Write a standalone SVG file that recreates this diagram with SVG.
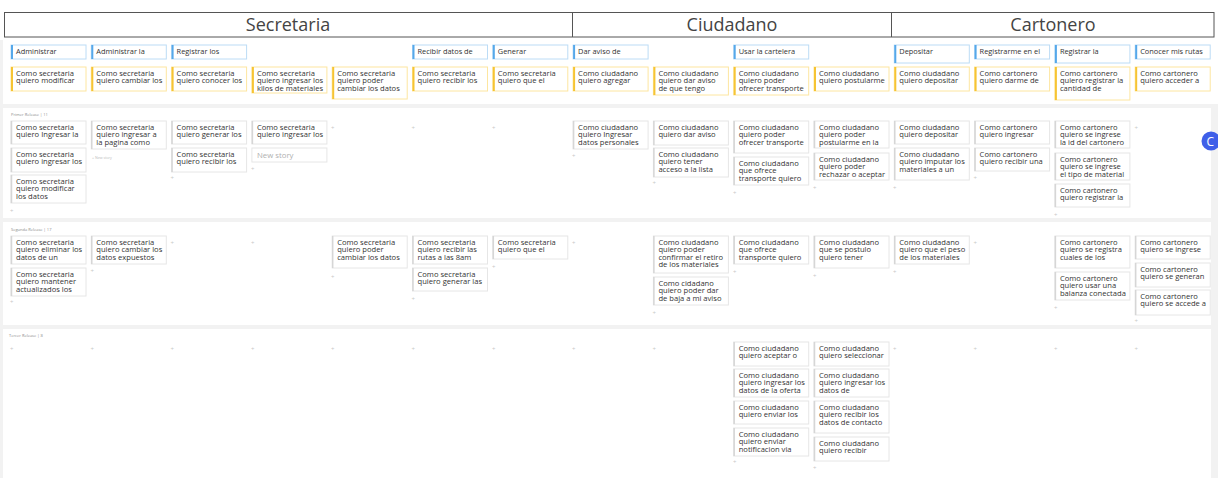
<svg xmlns="http://www.w3.org/2000/svg" width="1218" height="478" viewBox="0 0 1218 478">
<style>
.t{font-family:"Open Sans","Noto Sans",sans-serif;font-size:7.6px;fill:#333}
.a{font-family:"Open Sans","Noto Sans",sans-serif;font-size:7.4px;fill:#333}
.h{font-family:"Open Sans","Noto Sans",sans-serif;font-size:18px;fill:#444;text-anchor:middle}
.rl{font-family:"Open Sans","Noto Sans",sans-serif;font-size:4px;fill:#8a8a8a}
.ns{font-family:"Open Sans","Noto Sans",sans-serif;font-size:7.8px;fill:#b0b0b0}
.p{font-family:"Open Sans","Noto Sans",sans-serif;font-size:6px;fill:#c8c8c8}
.pn{font-family:"Open Sans","Noto Sans",sans-serif;font-size:3.6px;fill:#bbb}
.story{fill:#fff;stroke:#e6e6e6;stroke-width:1}
.sbar{stroke:#d6d6d6;stroke-width:1.5}
.bb{fill:#fff;stroke:#fde6a0;stroke-width:1}
.bbar{stroke:#f6c433;stroke-width:2}
.act{fill:#fff;stroke:#bcdcf6;stroke-width:1}
.abar{stroke:#55a8ea;stroke-width:2}
.band{fill:#f2f2f2}
</style>
<rect x="0" y="0" width="1218" height="478" fill="#fff"/>
<rect class="band" x="0" y="104" width="1218" height="4"/>
<rect class="band" x="0" y="218" width="1218" height="4"/>
<rect class="band" x="0" y="325" width="1218" height="4"/>
<rect class="band" x="0" y="40" width="3" height="438"/>
<rect class="band" x="1211" y="104" width="7" height="374"/>

<g id="header">
<rect x="4.5" y="12.5" width="1209.5" height="24.5" fill="#fff" stroke="#555" stroke-width="1"/>
<line x1="572.5" y1="12.5" x2="572.5" y2="37" stroke="#555" stroke-width="1"/>
<line x1="891.5" y1="12.5" x2="891.5" y2="37" stroke="#555" stroke-width="1"/>
<text class="h" x="288" y="31">Secretaria</text>
<text class="h" x="732" y="31">Ciudadano</text>
<text class="h" x="1053" y="31">Cartonero</text>
</g>

<g id="connectors"></g>

<!-- Activities -->
<g id="act0"><rect class="act" x="11" y="45" width="75" height="14"/><line class="abar" x1="12" y1="45" x2="12" y2="59"/><text class="a" x="16" y="54">Administrar</text></g>
<g id="act1"><rect class="act" x="91.3" y="45" width="75" height="14"/><line class="abar" x1="92.3" y1="45" x2="92.3" y2="59"/><text class="a" x="96.3" y="54">Administrar la</text></g>
<g id="act2"><rect class="act" x="171.6" y="45" width="75" height="14"/><line class="abar" x1="172.6" y1="45" x2="172.6" y2="59"/><text class="a" x="176.6" y="54">Registrar los</text></g>
<g id="act5"><rect class="act" x="412.5" y="45" width="75" height="14"/><line class="abar" x1="413.5" y1="45" x2="413.5" y2="59"/><text class="a" x="417.5" y="54">Recibir datos de</text></g>
<g id="act6"><rect class="act" x="492.8" y="45" width="75" height="14"/><line class="abar" x1="493.8" y1="45" x2="493.8" y2="59"/><text class="a" x="497.8" y="54">Generar</text></g>
<g id="act7"><rect class="act" x="573.1" y="45" width="75" height="14"/><line class="abar" x1="574.1" y1="45" x2="574.1" y2="59"/><text class="a" x="578.1" y="54">Dar aviso de</text></g>
<g id="act9"><rect class="act" x="733.7" y="45" width="75" height="14"/><line class="abar" x1="734.7" y1="45" x2="734.7" y2="59"/><text class="a" x="738.7" y="54">Usar la cartelera</text></g>
<g id="act11"><rect class="act" x="894.3" y="45" width="75" height="18"/><line class="abar" x1="895.3" y1="45" x2="895.3" y2="63"/><text class="a" x="899.3" y="54">Depositar</text></g>
<g id="act12"><rect class="act" x="974.6" y="45" width="75" height="14"/><line class="abar" x1="975.6" y1="45" x2="975.6" y2="59"/><text class="a" x="979.6" y="54">Registrarme en el</text></g>
<g id="act13"><rect class="act" x="1054.9" y="45" width="75" height="18"/><line class="abar" x1="1055.9" y1="45" x2="1055.9" y2="63"/><text class="a" x="1059.9" y="54">Registrar la</text></g>
<g id="act14"><rect class="act" x="1135.2" y="45" width="75" height="14"/><line class="abar" x1="1136.2" y1="45" x2="1136.2" y2="59"/><text class="a" x="1140.2" y="54">Conocer mis rutas</text></g>

<!-- Backbone -->
<g id="bb0"><rect class="bb" x="11" y="67" width="75" height="24"/><line class="bbar" x1="12" y1="67" x2="12" y2="91"/><text class="t"><tspan x="16" y="76">Como secretaria</tspan><tspan x="16" y="83.3">quiero modificar</tspan></text></g>
<g id="bb1"><rect class="bb" x="91.3" y="67" width="75" height="24"/><line class="bbar" x1="92.3" y1="67" x2="92.3" y2="91"/><text class="t"><tspan x="96.3" y="76">Como secretaria</tspan><tspan x="96.3" y="83.3">quiero cambiar los</tspan></text></g>
<g id="bb2"><rect class="bb" x="171.6" y="67" width="75" height="24"/><line class="bbar" x1="172.6" y1="67" x2="172.6" y2="91"/><text class="t"><tspan x="176.6" y="76">Como secretaria</tspan><tspan x="176.6" y="83.3">quiero conocer los</tspan></text></g>
<g id="bb3"><rect class="bb" x="251.9" y="67" width="75" height="26"/><line class="bbar" x1="252.9" y1="67" x2="252.9" y2="93"/><text class="t"><tspan x="256.9" y="76">Como secretaria</tspan><tspan x="256.9" y="83.3">quiero ingresar los</tspan><tspan x="256.9" y="90.6">kilos de materiales</tspan></text></g>
<g id="bb4"><rect class="bb" x="332.2" y="67" width="75" height="32"/><line class="bbar" x1="333.2" y1="67" x2="333.2" y2="99"/><text class="t"><tspan x="337.2" y="76">Como secretaria</tspan><tspan x="337.2" y="83.3">quiero poder</tspan><tspan x="337.2" y="90.6">cambiar los datos</tspan></text></g>
<g id="bb5"><rect class="bb" x="412.5" y="67" width="75" height="24"/><line class="bbar" x1="413.5" y1="67" x2="413.5" y2="91"/><text class="t"><tspan x="417.5" y="76">Como secretaria</tspan><tspan x="417.5" y="83.3">quiero recibir los</tspan></text></g>
<g id="bb6"><rect class="bb" x="492.8" y="67" width="75" height="24"/><line class="bbar" x1="493.8" y1="67" x2="493.8" y2="91"/><text class="t"><tspan x="497.8" y="76">Como secretaria</tspan><tspan x="497.8" y="83.3">quiero que el</tspan></text></g>
<g id="bb7"><rect class="bb" x="573.1" y="67" width="75" height="24"/><line class="bbar" x1="574.1" y1="67" x2="574.1" y2="91"/><text class="t"><tspan x="578.1" y="76">Como ciudadano</tspan><tspan x="578.1" y="83.3">quiero agregar</tspan></text></g>
<g id="bb8"><rect class="bb" x="653.4" y="67" width="75" height="28"/><line class="bbar" x1="654.4" y1="67" x2="654.4" y2="95"/><text class="t"><tspan x="658.4" y="76">Como ciudadano</tspan><tspan x="658.4" y="83.3">quiero dar aviso</tspan><tspan x="658.4" y="90.6">de que tengo</tspan></text></g>
<g id="bb9"><rect class="bb" x="733.7" y="67" width="75" height="28"/><line class="bbar" x1="734.7" y1="67" x2="734.7" y2="95"/><text class="t"><tspan x="738.7" y="76">Como ciudadano</tspan><tspan x="738.7" y="83.3">quiero poder</tspan><tspan x="738.7" y="90.6">ofrecer transporte</tspan></text></g>
<g id="bb10"><rect class="bb" x="814" y="67" width="75" height="24"/><line class="bbar" x1="815" y1="67" x2="815" y2="91"/><text class="t"><tspan x="819" y="76">Como ciudadano</tspan><tspan x="819" y="83.3">quiero postularme</tspan></text></g>
<g id="bb11"><rect class="bb" x="894.3" y="67" width="75" height="24"/><line class="bbar" x1="895.3" y1="67" x2="895.3" y2="91"/><text class="t"><tspan x="899.3" y="76">Como ciudadano</tspan><tspan x="899.3" y="83.3">quiero depositar</tspan></text></g>
<g id="bb12"><rect class="bb" x="974.6" y="67" width="75" height="24"/><line class="bbar" x1="975.6" y1="67" x2="975.6" y2="91"/><text class="t"><tspan x="979.6" y="76">Como cartonero</tspan><tspan x="979.6" y="83.3">quiero darme de</tspan></text></g>
<g id="bb13"><rect class="bb" x="1054.9" y="67" width="75" height="33"/><line class="bbar" x1="1055.9" y1="67" x2="1055.9" y2="100"/><text class="t"><tspan x="1059.9" y="76">Como cartonero</tspan><tspan x="1059.9" y="83.3">quiero registrar la</tspan><tspan x="1059.9" y="90.6">cantidad de</tspan></text></g>
<g id="bb14"><rect class="bb" x="1135.2" y="67" width="75" height="24"/><line class="bbar" x1="1136.2" y1="67" x2="1136.2" y2="91"/><text class="t"><tspan x="1140.2" y="76">Como cartonero</tspan><tspan x="1140.2" y="83.3">quiero acceder a</tspan></text></g>

<!-- Release labels -->
<text class="rl" x="11" y="115.5">Primer Release  |  11</text>
<text class="rl" x="11" y="230.5">Segunda Release  |  17</text>
<text class="rl" x="9" y="336.5">Tercer Release  |  8</text>

<!-- Release 1 -->
<g id="r1c0a"><rect class="story" x="11" y="121" width="75" height="23"/><line class="sbar" x1="11.5" y1="121" x2="11.5" y2="144"/><text class="t"><tspan x="16" y="130">Como secretaria</tspan><tspan x="16" y="137.3">quiero Ingresar la</tspan></text></g>
<g id="r1c0b"><rect class="story" x="11" y="148" width="75" height="24"/><line class="sbar" x1="11.5" y1="148" x2="11.5" y2="172"/><text class="t"><tspan x="16" y="157">Como secretaria</tspan><tspan x="16" y="164.3">quiero ingresar los</tspan></text></g>
<g id="r1c0c"><rect class="story" x="11" y="175" width="75" height="28"/><line class="sbar" x1="11.5" y1="175" x2="11.5" y2="203"/><text class="t"><tspan x="16" y="184">Como secretaria</tspan><tspan x="16" y="191.3">quiero modificar</tspan><tspan x="16" y="198.6">los datos</tspan></text></g>
<g id="r1c1a"><rect class="story" x="91.3" y="121" width="75" height="28"/><line class="sbar" x1="91.8" y1="121" x2="91.8" y2="149"/><text class="t"><tspan x="96.3" y="130">Como secretaria</tspan><tspan x="96.3" y="137.3">quiero ingresar a</tspan><tspan x="96.3" y="144.6">la pagina como</tspan></text></g>
<g id="r1c2a"><rect class="story" x="171.6" y="121" width="75" height="23"/><line class="sbar" x1="172.1" y1="121" x2="172.1" y2="144"/><text class="t"><tspan x="176.6" y="130">Como secretaria</tspan><tspan x="176.6" y="137.3">quiero generar los</tspan></text></g>
<g id="r1c2b"><rect class="story" x="171.6" y="148" width="75" height="24"/><line class="sbar" x1="172.1" y1="148" x2="172.1" y2="172"/><text class="t"><tspan x="176.6" y="157">Como secretaria</tspan><tspan x="176.6" y="164.3">quiero recibir los</tspan></text></g>
<g id="r1c3a"><rect class="story" x="251.9" y="121" width="75" height="23"/><line class="sbar" x1="252.4" y1="121" x2="252.4" y2="144"/><text class="t"><tspan x="256.9" y="130">Como secretaria</tspan><tspan x="256.9" y="137.3">quiero ingresar los</tspan></text></g>
<g id="r1c3new"><rect class="story" x="251.9" y="148" width="75" height="14"/><text class="ns" x="256.9" y="157.5">New story</text></g>
<g id="r1c7a"><rect class="story" x="573.1" y="121" width="75" height="28"/><line class="sbar" x1="573.6" y1="121" x2="573.6" y2="149"/><text class="t"><tspan x="578.1" y="130">Como ciudadano</tspan><tspan x="578.1" y="137.3">quiero Ingresar</tspan><tspan x="578.1" y="144.6">datos personales</tspan></text></g>
<g id="r1c8a"><rect class="story" x="653.4" y="121" width="75" height="24"/><line class="sbar" x1="653.9" y1="121" x2="653.9" y2="145"/><text class="t"><tspan x="658.4" y="130">Como ciudadano</tspan><tspan x="658.4" y="137.3">quiero dar aviso</tspan></text></g>
<g id="r1c8b"><rect class="story" x="653.4" y="148" width="75" height="29"/><line class="sbar" x1="653.9" y1="148" x2="653.9" y2="177"/><text class="t"><tspan x="658.4" y="157">Como ciudadano</tspan><tspan x="658.4" y="164.3">quiero tener</tspan><tspan x="658.4" y="171.6">acceso a la lista</tspan></text></g>
<g id="r1c9a"><rect class="story" x="733.7" y="121" width="75" height="32"/><line class="sbar" x1="734.2" y1="121" x2="734.2" y2="153"/><text class="t"><tspan x="738.7" y="130">Como ciudadano</tspan><tspan x="738.7" y="137.3">quiero poder</tspan><tspan x="738.7" y="144.6">ofrecer transporte</tspan></text></g>
<g id="r1c9b"><rect class="story" x="733.7" y="157" width="75" height="28"/><line class="sbar" x1="734.2" y1="157" x2="734.2" y2="185"/><text class="t"><tspan x="738.7" y="166">Como ciudadano</tspan><tspan x="738.7" y="173.3">que ofrece</tspan><tspan x="738.7" y="180.6">transporte quiero</tspan></text></g>
<g id="r1c10a"><rect class="story" x="814" y="121" width="75" height="27"/><line class="sbar" x1="814.5" y1="121" x2="814.5" y2="148"/><text class="t"><tspan x="819" y="130">Como ciudadano</tspan><tspan x="819" y="137.3">quiero poder</tspan><tspan x="819" y="144.6">postularme en la</tspan></text></g>
<g id="r1c10b"><rect class="story" x="814" y="153" width="75" height="27"/><line class="sbar" x1="814.5" y1="153" x2="814.5" y2="180"/><text class="t"><tspan x="819" y="162">Como ciudadano</tspan><tspan x="819" y="169.3">quiero poder</tspan><tspan x="819" y="176.6">rechazar o aceptar</tspan></text></g>
<g id="r1c11a"><rect class="story" x="894.3" y="121" width="75" height="23"/><line class="sbar" x1="894.8" y1="121" x2="894.8" y2="144"/><text class="t"><tspan x="899.3" y="130">Como ciudadano</tspan><tspan x="899.3" y="137.3">quiero depositar</tspan></text></g>
<g id="r1c11b"><rect class="story" x="894.3" y="148" width="75" height="32"/><line class="sbar" x1="894.8" y1="148" x2="894.8" y2="180"/><text class="t"><tspan x="899.3" y="157">Como ciudadano</tspan><tspan x="899.3" y="164.3">quiero imputar los</tspan><tspan x="899.3" y="171.6">materiales a un</tspan></text></g>
<g id="r1c12a"><rect class="story" x="974.6" y="121" width="75" height="23"/><line class="sbar" x1="975.1" y1="121" x2="975.1" y2="144"/><text class="t"><tspan x="979.6" y="130">Como cartonero</tspan><tspan x="979.6" y="137.3">quiero ingresar</tspan></text></g>
<g id="r1c12b"><rect class="story" x="974.6" y="148" width="75" height="23"/><line class="sbar" x1="975.1" y1="148" x2="975.1" y2="171"/><text class="t"><tspan x="979.6" y="157">Como cartonero</tspan><tspan x="979.6" y="164.3">quiero recibir una</tspan></text></g>
<g id="r1c13a"><rect class="story" x="1054.9" y="121" width="75" height="27"/><line class="sbar" x1="1055.4" y1="121" x2="1055.4" y2="148"/><text class="t"><tspan x="1059.9" y="130">Como cartonero</tspan><tspan x="1059.9" y="137.3">quiero se ingrese</tspan><tspan x="1059.9" y="144.6">la id del cartonero</tspan></text></g>
<g id="r1c13b"><rect class="story" x="1054.9" y="153" width="75" height="27"/><line class="sbar" x1="1055.4" y1="153" x2="1055.4" y2="180"/><text class="t"><tspan x="1059.9" y="162">Como cartonero</tspan><tspan x="1059.9" y="169.3">quiero se ingrese</tspan><tspan x="1059.9" y="176.6">el tipo de material</tspan></text></g>
<g id="r1c13c"><rect class="story" x="1054.9" y="184" width="75" height="23"/><line class="sbar" x1="1055.4" y1="184" x2="1055.4" y2="207"/><text class="t"><tspan x="1059.9" y="193">Como cartonero</tspan><tspan x="1059.9" y="200.3">quiero registrar la</tspan></text></g>

<!-- Release 2 -->
<g id="r2c0a"><rect class="story" x="11" y="236" width="75" height="28"/><line class="sbar" x1="11.5" y1="236" x2="11.5" y2="264"/><text class="t"><tspan x="16" y="245">Como secretaria</tspan><tspan x="16" y="252.3">quiero eliminar los</tspan><tspan x="16" y="259.6">datos de un</tspan></text></g>
<g id="r2c0b"><rect class="story" x="11" y="268" width="75" height="28"/><line class="sbar" x1="11.5" y1="268" x2="11.5" y2="296"/><text class="t"><tspan x="16" y="277">Como secretaria</tspan><tspan x="16" y="284.3">quiero mantener</tspan><tspan x="16" y="291.6">actualizados los</tspan></text></g>
<g id="r2c1a"><rect class="story" x="91.3" y="236" width="75" height="28"/><line class="sbar" x1="91.8" y1="236" x2="91.8" y2="264"/><text class="t"><tspan x="96.3" y="245">Como secretaria</tspan><tspan x="96.3" y="252.3">quiero cambiar los</tspan><tspan x="96.3" y="259.6">datos expuestos</tspan></text></g>
<g id="r2c4a"><rect class="story" x="332.2" y="236" width="75" height="32"/><line class="sbar" x1="332.7" y1="236" x2="332.7" y2="268"/><text class="t"><tspan x="337.2" y="245">Como secretaria</tspan><tspan x="337.2" y="252.3">quiero poder</tspan><tspan x="337.2" y="259.6">cambiar los datos</tspan></text></g>
<g id="r2c5a"><rect class="story" x="412.5" y="236" width="75" height="28"/><line class="sbar" x1="413" y1="236" x2="413" y2="264"/><text class="t"><tspan x="417.5" y="245">Como secretaria</tspan><tspan x="417.5" y="252.3">quiero recibir las</tspan><tspan x="417.5" y="259.6">rutas a las 8am</tspan></text></g>
<g id="r2c5b"><rect class="story" x="412.5" y="268" width="75" height="23"/><line class="sbar" x1="413" y1="268" x2="413" y2="291"/><text class="t"><tspan x="417.5" y="277">Como secretaria</tspan><tspan x="417.5" y="284.3">quiero generar las</tspan></text></g>
<g id="r2c6a"><rect class="story" x="492.8" y="236" width="75" height="23"/><line class="sbar" x1="493.3" y1="236" x2="493.3" y2="259"/><text class="t"><tspan x="497.8" y="245">Como secretaria</tspan><tspan x="497.8" y="252.3">quiero que el</tspan></text></g>
<g id="r2c8a"><rect class="story" x="653.4" y="236" width="75" height="37"/><line class="sbar" x1="653.9" y1="236" x2="653.9" y2="273"/><text class="t"><tspan x="658.4" y="245">Como ciudadano</tspan><tspan x="658.4" y="252.3">quiero poder</tspan><tspan x="658.4" y="259.6">confirmar el retiro</tspan><tspan x="658.4" y="266.9">de los materiales</tspan></text></g>
<g id="r2c8b"><rect class="story" x="653.4" y="277" width="75" height="28"/><line class="sbar" x1="653.9" y1="277" x2="653.9" y2="305"/><text class="t"><tspan x="658.4" y="286">Como cidadano</tspan><tspan x="658.4" y="293.3">quiero poder dar</tspan><tspan x="658.4" y="300.6">de baja a mi aviso</tspan></text></g>
<g id="r2c9a"><rect class="story" x="733.7" y="236" width="75" height="28"/><line class="sbar" x1="734.2" y1="236" x2="734.2" y2="264"/><text class="t"><tspan x="738.7" y="245">Como ciudadano</tspan><tspan x="738.7" y="252.3">que ofrece</tspan><tspan x="738.7" y="259.6">transporte quiero</tspan></text></g>
<g id="r2c10a"><rect class="story" x="814" y="236" width="75" height="32"/><line class="sbar" x1="814.5" y1="236" x2="814.5" y2="268"/><text class="t"><tspan x="819" y="245">Como ciudadano</tspan><tspan x="819" y="252.3">que se postulo</tspan><tspan x="819" y="259.6">quiero tener</tspan></text></g>
<g id="r2c11a"><rect class="story" x="894.3" y="236" width="75" height="28"/><line class="sbar" x1="894.8" y1="236" x2="894.8" y2="264"/><text class="t"><tspan x="899.3" y="245">Como ciudadano</tspan><tspan x="899.3" y="252.3">quiero que el peso</tspan><tspan x="899.3" y="259.6">de los materiales</tspan></text></g>
<g id="r2c13a"><rect class="story" x="1054.9" y="236" width="75" height="32"/><line class="sbar" x1="1055.4" y1="236" x2="1055.4" y2="268"/><text class="t"><tspan x="1059.9" y="245">Como cartonero</tspan><tspan x="1059.9" y="252.3">quiero se registra</tspan><tspan x="1059.9" y="259.6">cuales de los</tspan></text></g>
<g id="r2c13b"><rect class="story" x="1054.9" y="272" width="75" height="28"/><line class="sbar" x1="1055.4" y1="272" x2="1055.4" y2="300"/><text class="t"><tspan x="1059.9" y="281">Como cartonero</tspan><tspan x="1059.9" y="288.3">quiero usar una</tspan><tspan x="1059.9" y="295.6">balanza conectada</tspan></text></g>
<g id="r2c14a"><rect class="story" x="1135.2" y="236" width="75" height="23"/><line class="sbar" x1="1135.7" y1="236" x2="1135.7" y2="259"/><text class="t"><tspan x="1140.2" y="245">Como cartonero</tspan><tspan x="1140.2" y="252.3">quiero se ingrese</tspan></text></g>
<g id="r2c14b"><rect class="story" x="1135.2" y="263" width="75" height="24"/><line class="sbar" x1="1135.7" y1="263" x2="1135.7" y2="287"/><text class="t"><tspan x="1140.2" y="272">Como cartonero</tspan><tspan x="1140.2" y="279.3">quiero se generan</tspan></text></g>
<g id="r2c14c"><rect class="story" x="1135.2" y="290" width="75" height="25"/><line class="sbar" x1="1135.7" y1="290" x2="1135.7" y2="315"/><text class="t"><tspan x="1140.2" y="299">Como cartonero</tspan><tspan x="1140.2" y="306.3">quiero se accede a</tspan></text></g>

<!-- Release 3 -->
<g id="r3c9a"><rect class="story" x="733.7" y="342" width="75" height="24"/><line class="sbar" x1="734.2" y1="342" x2="734.2" y2="366"/><text class="t"><tspan x="738.7" y="351">Como ciudadano</tspan><tspan x="738.7" y="358.3">quiero aceptar o</tspan></text></g>
<g id="r3c9b"><rect class="story" x="733.7" y="369" width="75" height="28"/><line class="sbar" x1="734.2" y1="369" x2="734.2" y2="397"/><text class="t"><tspan x="738.7" y="378">Como ciudadano</tspan><tspan x="738.7" y="385.3">quiero ingresar los</tspan><tspan x="738.7" y="392.6">datos de la oferta</tspan></text></g>
<g id="r3c9c"><rect class="story" x="733.7" y="401" width="75" height="23"/><line class="sbar" x1="734.2" y1="401" x2="734.2" y2="424"/><text class="t"><tspan x="738.7" y="410">Como ciudadano</tspan><tspan x="738.7" y="417.3">quiero enviar los</tspan></text></g>
<g id="r3c9d"><rect class="story" x="733.7" y="428" width="75" height="28"/><line class="sbar" x1="734.2" y1="428" x2="734.2" y2="456"/><text class="t"><tspan x="738.7" y="437">Como ciudadano</tspan><tspan x="738.7" y="444.3">quiero enviar</tspan><tspan x="738.7" y="451.6">notificacion via</tspan></text></g>
<g id="r3c10a"><rect class="story" x="814" y="342" width="75" height="24"/><line class="sbar" x1="814.5" y1="342" x2="814.5" y2="366"/><text class="t"><tspan x="819" y="351">Como ciudadano</tspan><tspan x="819" y="358.3">quiero seleccionar</tspan></text></g>
<g id="r3c10b"><rect class="story" x="814" y="369" width="75" height="28"/><line class="sbar" x1="814.5" y1="369" x2="814.5" y2="397"/><text class="t"><tspan x="819" y="378">Como ciudadano</tspan><tspan x="819" y="385.3">quiero ingresar los</tspan><tspan x="819" y="392.6">datos de</tspan></text></g>
<g id="r3c10c"><rect class="story" x="814" y="401" width="75" height="32"/><line class="sbar" x1="814.5" y1="401" x2="814.5" y2="433"/><text class="t"><tspan x="819" y="410">Como ciudadano</tspan><tspan x="819" y="417.3">quiero recibir los</tspan><tspan x="819" y="424.6">datos de contacto</tspan></text></g>
<g id="r3c10d"><rect class="story" x="814" y="437" width="75" height="24"/><line class="sbar" x1="814.5" y1="437" x2="814.5" y2="461"/><text class="t"><tspan x="819" y="446">Como ciudadano</tspan><tspan x="819" y="453.3">quiero recibir</tspan></text></g>

<!-- add markers -->
<g id="add-markers">
<text class="p" x="10" y="213">+</text>
<text class="pn" x="92" y="158.5">+ New story</text>
<text class="p" x="170.5" y="180">+</text>
<text class="p" x="251" y="171">+</text>
<text class="p" x="331" y="130">+</text>
<text class="p" x="411.5" y="130">+</text>
<text class="p" x="492" y="130">+</text>
<text class="p" x="572" y="158">+</text>
<text class="p" x="652.5" y="185">+</text>
<text class="p" x="733" y="195">+</text>
<text class="p" x="813" y="190">+</text>
<text class="p" x="893" y="190">+</text>
<text class="p" x="973.5" y="180">+</text>
<text class="p" x="1054" y="217">+</text>
<text class="p" x="1134.5" y="130">+</text>

<text class="p" x="10" y="304">+</text>
<text class="p" x="90.5" y="273">+</text>
<text class="p" x="170.5" y="245">+</text>
<text class="p" x="251" y="245">+</text>
<text class="p" x="331" y="279">+</text>
<text class="p" x="411.5" y="301">+</text>
<text class="p" x="492" y="269">+</text>
<text class="p" x="572" y="245">+</text>
<text class="p" x="652.5" y="315">+</text>
<text class="p" x="733" y="274">+</text>
<text class="p" x="813" y="278">+</text>
<text class="p" x="893" y="274">+</text>
<text class="p" x="973.5" y="245">+</text>
<text class="p" x="1054" y="310">+</text>
<text class="p" x="1134.5" y="323">+</text>

<text class="p" x="10" y="351">+</text>
<text class="p" x="90.5" y="351">+</text>
<text class="p" x="170.5" y="351">+</text>
<text class="p" x="251" y="351">+</text>
<text class="p" x="331" y="351">+</text>
<text class="p" x="411.5" y="351">+</text>
<text class="p" x="492" y="351">+</text>
<text class="p" x="572" y="351">+</text>
<text class="p" x="652.5" y="351">+</text>
<text class="p" x="733" y="464">+</text>
<text class="p" x="813" y="470">+</text>
<text class="p" x="893" y="351">+</text>
<text class="p" x="973.5" y="351">+</text>
<text class="p" x="1054" y="351">+</text>
<text class="p" x="1134.5" y="351">+</text>
</g>

<g id="chat-button">
<circle cx="1211" cy="141" r="9.5" fill="#3f5fe8"/>
<text x="1206.5" y="145.5" font-family="Open Sans, sans-serif" font-size="12" fill="#fff">C</text>
</g>
</svg>
